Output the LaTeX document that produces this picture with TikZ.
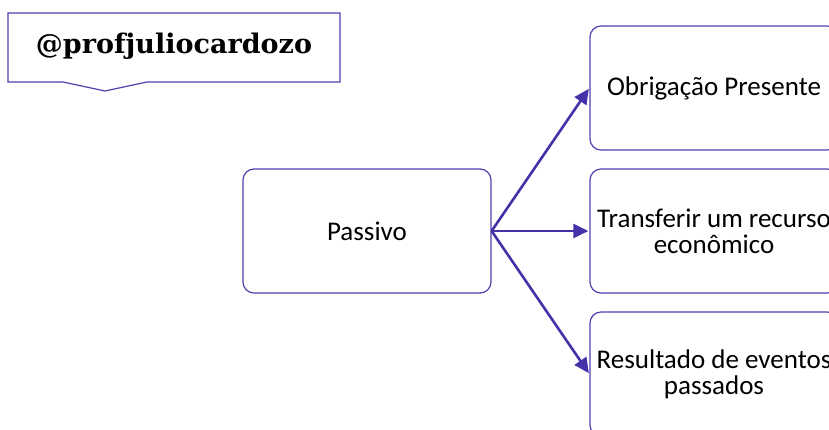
\documentclass[tikz,border=0pt]{standalone}
\usepackage{fontspec}
\setmainfont{Carlito}
\newfontfamily\callfont{DejaVu Serif}
\usetikzlibrary{arrows.meta}
\definecolor{edge}{HTML}{5141B0}
\definecolor{arr}{HTML}{4433A8}
\tikzset{
  box/.style={draw=edge, line width=1.2pt, rounded corners=11pt, minimum width=248pt, minimum height=124pt, inner sep=0pt, align=center, font=\fontsize{27}{26}\selectfont},
  conn/.style={draw=arr, line width=2.6pt, -{Triangle[length=15pt,width=14pt]}, shorten >=1pt}
}
\begin{document}
\begin{tikzpicture}[x=1pt,y=-1pt]
\useasboundingbox (0,0) rectangle (829,429);
\clip (0,0) rectangle (829,429);
\fill[white] (0,0) rectangle (829,429);
% callout
\draw[draw=edge, line width=1.2pt, fill=white] (8,13) -- (340,13) -- (340,82) -- (147,82) -- (105,91) -- (63,82) -- (8,82) -- cycle;
\node[font=\callfont\bfseries\fontsize{27}{30}\selectfont] (call) at (174,46) {@profjuliocardozo};
% boxes
\node[box] (p) at (367,231) {Passivo};
\node[box] (a) at (714,88) {Obrigação Presente};
\node[box] (b) at (714,231) {Transferir um recurso\\econômico};
\node[box] (c) at (714,374) {Resultado de eventos\\passados};
\coordinate (o) at (p.east);
\draw[conn] (o) -- (a.west);
\draw[conn] (o) -- (b.west);
\draw[conn] (o) -- (c.west);
\end{tikzpicture}
\end{document}
